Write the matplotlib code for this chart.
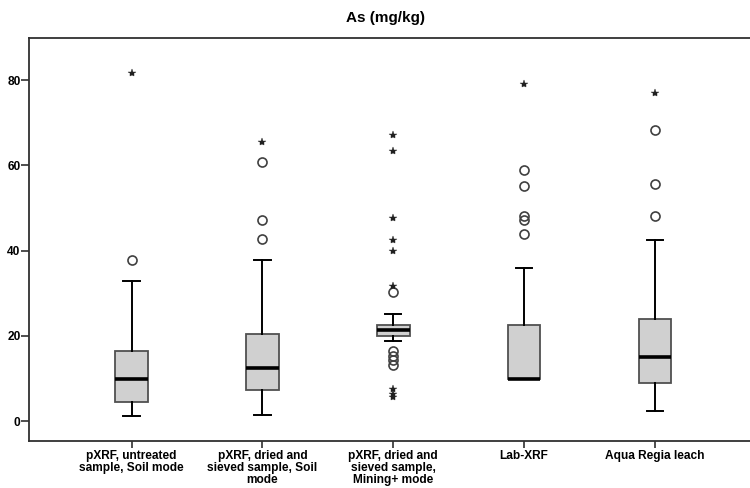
import matplotlib
matplotlib.use('Agg')
import matplotlib.pyplot as plt

plt.rcParams['font.family'] = ['Liberation Sans', 'DejaVu Sans']

labels = ['pXRF, untreated\nsample, Soil mode',
          'pXRF, dried and\nsieved sample, Soil\nmode',
          'pXRF, dried and\nsieved sample,\nMining+ mode',
          'Lab-XRF',
          'Aqua Regia leach']

# box stats
whislo = [1.1, 1.4, 18.7, 9.9, 2.4]
q1 = [4.5, 7.2, 20.0, 9.9, 8.9]
med = [9.8, 12.4, 21.4, 9.9, 15.0]
q3 = [16.5, 20.5, 22.5, 22.5, 24.0]
whishi = [32.9, 37.8, 25.2, 35.9, 42.5]

circles = [
    [37.8],
    [42.7, 47.2, 60.7],
    [30.2, 16.5, 15.3, 14.3, 13.2],
    [43.9, 47.1, 48.2, 55.1, 59.0],
    [48.2, 55.6, 68.4],
]
stars = [
    [81.6],
    [65.4],
    [67.2, 63.3, 47.6, 42.4, 39.8, 31.8, 7.5, 6.3, 5.6],
    [79.0],
    [77.0],
]

fig = plt.figure(figsize=(7.5, 4.88), dpi=100)
ax = fig.add_axes([29.3 / 750, 1 - 440.7 / 488, 725 / 750, 402.7 / 488])

stats = []
for i in range(len(labels)):
    stats.append(dict(whislo=whislo[i], q1=q1[i], med=med[i], q3=q3[i],
                      whishi=whishi[i], fliers=circles[i]))

ax.bxp(stats, positions=range(1, 6), widths=0.25, patch_artist=True,
       showfliers=True,
       boxprops=dict(facecolor='#d0d0d0', edgecolor='#505050', linewidth=1.3),
       medianprops=dict(color='black', linewidth=2.6),
       whiskerprops=dict(color='black', linewidth=1.4),
       capprops=dict(color='black', linewidth=1.4),
       capwidths=0.125,
       flierprops=dict(marker='o', markersize=6.5, markerfacecolor='none',
                       markeredgecolor='#404040', markeredgewidth=1.2))

for i, s in enumerate(stars):
    ax.plot([i + 1] * len(s), s, linestyle='none', marker='*', markersize=6,
            color='#202020', markeredgewidth=0.3)

ax.set_xlim(0.218, 5.76)
ax.set_ylim(-4.6, 89.9)
ax.set_yticks([0, 20, 40, 60, 80])
ax.set_xticks(range(1, 6))
ax.set_xticklabels(labels, fontsize=8.6, fontweight='bold', linespacing=1.0)
for t in ax.get_yticklabels():
    t.set_fontsize(8.6)
    t.set_fontweight('bold')
ax.tick_params(direction='out', length=5.5, width=1.2, colors='#303030',
               labelcolor='black', pad=0.8)
ax.tick_params(axis='x', length=5, pad=1.6)
for sp in ax.spines.values():
    sp.set_color('#303030')
    sp.set_linewidth(1.3)

fig.text(385 / 750, 1 - 18 / 488, 'As (mg/kg)', ha='center', va='center',
         fontsize=11, fontweight='bold')

fig.savefig('out.png', dpi=100)
